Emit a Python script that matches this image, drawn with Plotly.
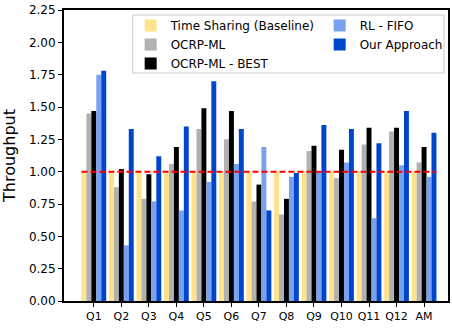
import plotly.graph_objects as go

# Queries and normalized throughput for each scheduling method
categories = ["Q1", "Q2", "Q3", "Q4", "Q5", "Q6", "Q7", "Q8", "Q9", "Q10", "Q11", "Q12", "AM"]
time_sharing = [1.00, 1.00, 1.00, 1.00, 1.00, 1.00, 1.00, 1.00, 1.00, 1.00, 1.00, 1.00, 1.00]
ocrp_ml = [1.45, 0.88, 0.79, 1.06, 1.33, 1.25, 0.77, 0.67, 1.16, 0.95, 1.21, 1.31, 1.07]
ocrp_ml_best = [1.47, 1.02, 0.98, 1.19, 1.49, 1.47, 0.90, 0.79, 1.20, 1.17, 1.34, 1.34, 1.19]
rl_fifo = [1.75, 0.43, 0.77, 0.70, 0.92, 1.06, 1.19, 0.96, 1.00, 1.07, 0.64, 1.05, 0.96]
our_approach = [1.78, 1.33, 1.12, 1.35, 1.70, 1.33, 0.70, 0.99, 1.36, 1.33, 1.22, 1.47, 1.30]

y_ticks = [0.00, 0.25, 0.50, 0.75, 1.00, 1.25, 1.50, 1.75, 2.00, 2.25]
baseline = 1.0

# (name, values, colour, legend column)
series = [
    ("Time Sharing (Baseline)", time_sharing, "#FFE38C", "legend"),
    ("OCRP-ML", ocrp_ml, "#B1B1B1", "legend"),
    ("OCRP-ML - BEST", ocrp_ml_best, "#000000", "legend"),
    ("RL - FIFO", rl_fifo, "#78A2F0", "legend2"),
    ("Our Approach", our_approach, "#0046CC", "legend2"),
]

pos = list(range(len(categories)))
bargap = 0.1
half_group = (1 - bargap) / 2

fig = go.Figure()
for name, vals, color, leg in series:
    fig.add_trace(go.Bar(
        x=pos, y=vals, name=name,
        marker=dict(color=color, line=dict(width=0)),
        legend=leg,
    ))

# reference line at the baseline throughput
fig.add_shape(
    type="line", xref="x", yref="y",
    x0=pos[0] - half_group, x1=pos[-1] + half_group,
    y0=baseline, y1=baseline,
    line=dict(color="#FF0000", width=2, dash="6px,3px"),
    layer="above",
)

# frame enclosing both legend columns
fig.add_shape(
    type="rect", xref="paper", yref="paper",
    x0=0.1788, x1=0.9896, y0=0.7835, y1=0.9828,
    line=dict(color="#CCCCCC", width=1),
    fillcolor="white", layer="above",
)

font_family = "DejaVu Sans, sans-serif"
legend_common = dict(
    yanchor="top", xanchor="left", orientation="v",
    bgcolor="rgba(0,0,0,0)", borderwidth=0,
    font=dict(size=12, family=font_family),
    tracegroupgap=0, itemwidth=30,
)

fig.update_layout(
    width=452, height=329,
    margin=dict(l=64, r=2, t=10, b=28),
    paper_bgcolor="white", plot_bgcolor="white",
    barmode="group", bargap=bargap, bargroupgap=0,
    font=dict(family=font_family, color="#000000"),
    legend=dict(x=0.1736, y=0.9966, **legend_common),
    legend2=dict(x=0.6658, y=0.9966, **legend_common),
    xaxis=dict(
        range=[-1.084, 12.87],
        tickmode="array", tickvals=pos, ticktext=categories,
        showgrid=False, zeroline=False,
        showline=True, linecolor="black", linewidth=2, mirror=True,
        ticks="outside", ticklen=4, tickwidth=1, tickcolor="black",
        tickfont=dict(size=11),
    ),
    yaxis=dict(
        range=[0, 2.25],
        tickmode="array", tickvals=y_ticks, tickformat=".2f",
        showgrid=False, zeroline=False,
        showline=True, linecolor="black", linewidth=2, mirror=True,
        ticks="outside", ticklen=4, tickwidth=1, tickcolor="black",
        tickfont=dict(size=12),
        title=dict(text="Throughput", font=dict(size=16)),
    ),
)

fig.write_html("out.html")
